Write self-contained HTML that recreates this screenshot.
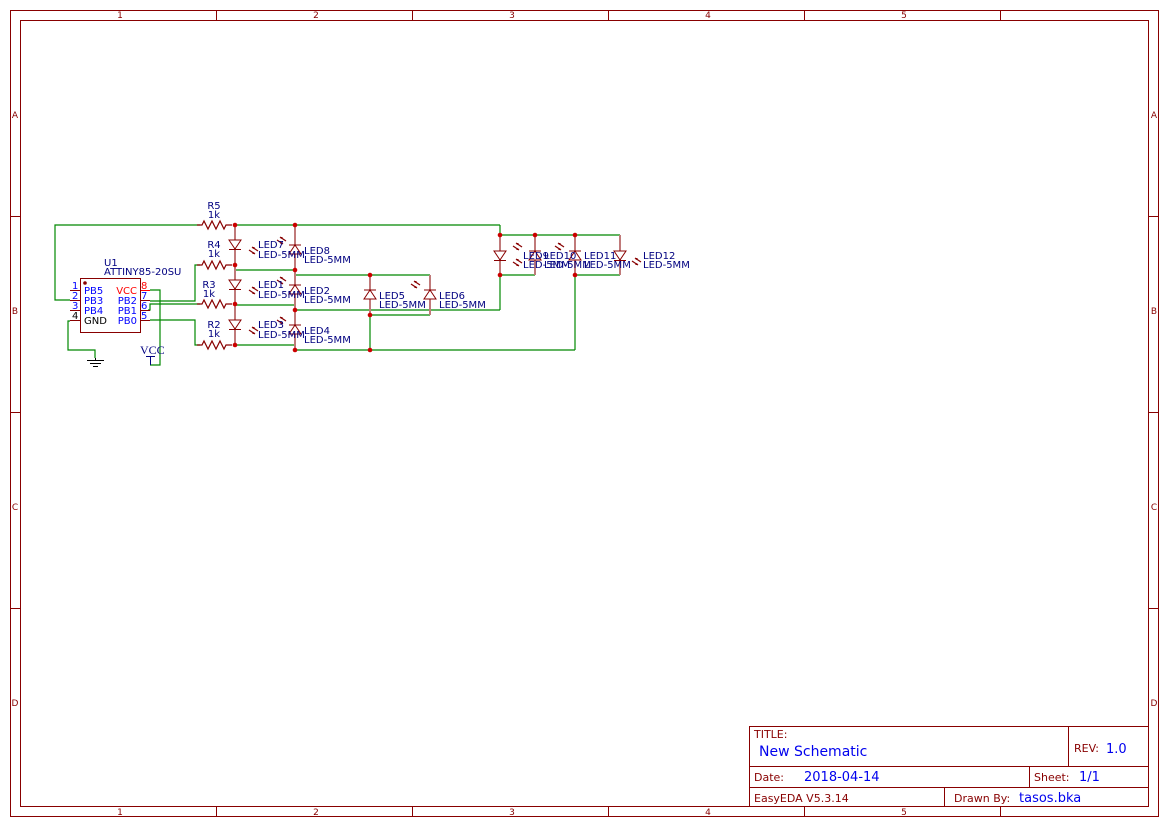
<!DOCTYPE html>
<html><head><meta charset="utf-8"><style>
html,body{margin:0;padding:0;background:#fff;}
svg{display:block;font-family:"DejaVu Sans","Liberation Sans",sans-serif;}
</style></head><body>
<svg width="1169" height="827" viewBox="0 0 1169 827" xmlns="http://www.w3.org/2000/svg">
<defs>
<g id="arr"><line x1="0" y1="0" x2="6" y2="4" stroke="#880000" stroke-width="1.2"/><polygon points="6,4 3,4 5,2" fill="#880000"/><line x1="3" y1="-3" x2="9" y2="1" stroke="#880000" stroke-width="1.2"/><polygon points="3,-3 6,-3 4,-1" fill="#880000"/></g>
<g id="res"><polyline points="0,0 5,0 7,-4 11,4 15,-4 19,4 23,-4 27,4 29,0 35,0" fill="none" stroke="#880000" stroke-width="1.2"/></g>
</defs>
<rect x="10.5" y="10.5" width="1148" height="806" fill="none" stroke="#880000" stroke-width="1"/>
<rect x="20.5" y="20.5" width="1128" height="786" fill="none" stroke="#880000" stroke-width="1"/>
<g stroke="#880000" stroke-width="1">
<line x1="216.5" y1="10" x2="216.5" y2="20"/><line x1="412.5" y1="10" x2="412.5" y2="20"/><line x1="608.5" y1="10" x2="608.5" y2="20"/><line x1="804.5" y1="10" x2="804.5" y2="20"/><line x1="1000.5" y1="10" x2="1000.5" y2="20"/>
<line x1="216.5" y1="807" x2="216.5" y2="817"/><line x1="412.5" y1="807" x2="412.5" y2="817"/><line x1="608.5" y1="807" x2="608.5" y2="817"/><line x1="804.5" y1="807" x2="804.5" y2="817"/><line x1="1000.5" y1="807" x2="1000.5" y2="817"/>
<line x1="10" y1="216.5" x2="20" y2="216.5"/><line x1="10" y1="412.5" x2="20" y2="412.5"/><line x1="10" y1="608.5" x2="20" y2="608.5"/>
<line x1="1149" y1="216.5" x2="1159" y2="216.5"/><line x1="1149" y1="412.5" x2="1159" y2="412.5"/><line x1="1149" y1="608.5" x2="1159" y2="608.5"/>
</g>
<g fill="#880000" font-size="9" text-anchor="middle">
<text x="120" y="18">1</text><text x="316" y="18">2</text><text x="512" y="18">3</text><text x="708" y="18">4</text><text x="904" y="18">5</text>
<text x="120" y="815">1</text><text x="316" y="815">2</text><text x="512" y="815">3</text><text x="708" y="815">4</text><text x="904" y="815">5</text>
<text x="15" y="118">A</text><text x="15" y="314">B</text><text x="15" y="510">C</text><text x="15" y="706">D</text>
<text x="1154" y="118">A</text><text x="1154" y="314">B</text><text x="1154" y="510">C</text><text x="1154" y="706">D</text>
</g>
<g stroke="#880000" stroke-width="1" fill="none">
<rect x="749.5" y="726.5" width="399" height="80"/>
<line x1="749" y1="766.5" x2="1149" y2="766.5"/><line x1="749" y1="787.5" x2="1149" y2="787.5"/>
<line x1="1068.5" y1="726" x2="1068.5" y2="767"/><line x1="1029.5" y1="767" x2="1029.5" y2="787"/><line x1="944.5" y1="787" x2="944.5" y2="807"/>
</g>
<g font-size="11" fill="#880000">
<text x="754" y="738">TITLE:</text><text x="1074" y="752">REV:</text>
<text x="754" y="781">Date:</text><text x="1034" y="781">Sheet:</text>
<text x="754" y="802">EasyEDA V5.3.14</text><text x="954" y="802">Drawn By:</text>
</g>
<g fill="#0000ee">
<text x="759" y="756" font-size="14">New Schematic</text>
<text x="1106" y="753" font-size="13">1.0</text>
<text x="804" y="781" font-size="13">2018-04-14</text>
<text x="1079" y="781" font-size="13">1/1</text>
<text x="1019" y="802" font-size="13">tasos.bka</text>
</g>
<g stroke="#008800" stroke-width="1.2" fill="none">
<polyline points="200,225 55,225 55,300 70,300"/>
<line x1="235" y1="225" x2="500" y2="225"/>
<polyline points="150,301 195,301 195,265 200,265"/>
<polyline points="148,310 150,310 150,304 200,304"/>
<polyline points="150,320 195,320 195,345 200,345"/>
<polyline points="150,290 160,290 160,365 150,365"/>
<polyline points="70,321 68,321 68,350 95,350 95,358"/>
<line x1="235" y1="270" x2="295" y2="270"/>
<line x1="295" y1="275" x2="430" y2="275"/>
<line x1="235" y1="305" x2="295" y2="305"/>
<line x1="295" y1="310" x2="500" y2="310"/>
<line x1="235" y1="345" x2="295" y2="345"/>
<line x1="295" y1="350" x2="575" y2="350"/>
<line x1="370" y1="315" x2="430" y2="315"/>
<line x1="370" y1="315" x2="370" y2="350"/>
<line x1="500" y1="225" x2="500" y2="235"/>
<line x1="500" y1="275" x2="500" y2="310"/>
<line x1="500" y1="235" x2="620" y2="235"/>
<line x1="500" y1="275" x2="535" y2="275"/>
<line x1="575" y1="275" x2="620" y2="275"/>
<line x1="575" y1="275" x2="575" y2="350"/>
</g>
<g stroke="#c07a7a" stroke-width="2">
<line x1="235" y1="225" x2="235" y2="345"/>
<line x1="295" y1="225" x2="295" y2="350"/>
<line x1="370" y1="275" x2="370" y2="315"/>
<line x1="430" y1="275" x2="430" y2="315"/>
<line x1="500" y1="235" x2="500" y2="275"/>
<line x1="535" y1="235" x2="535" y2="275"/>
<line x1="575" y1="235" x2="575" y2="275"/>
<line x1="620" y1="235" x2="620" y2="275"/>
</g>
<use href="#res" x="197" y="225"/><use href="#res" x="197" y="265"/><use href="#res" x="197" y="304"/><use href="#res" x="197" y="345"/>
<g font-size="10" fill="#000080" text-anchor="middle">
<text x="214" y="209">R5</text><text x="214" y="218">1k</text>
<text x="214" y="248">R4</text><text x="214" y="257">1k</text>
<text x="209" y="288">R3</text><text x="209" y="297">1k</text>
<text x="214" y="328">R2</text><text x="214" y="337">1k</text>
</g>
<g>
<g transform="translate(235,240)"><polygon points="-6,0 6,0 0,9" fill="#fff" stroke="#880000"/><line x1="-6" y1="9.5" x2="6" y2="9.5" stroke="#880000"/></g>
<g transform="translate(235,280)"><polygon points="-6,0 6,0 0,9" fill="#fff" stroke="#880000"/><line x1="-6" y1="9.5" x2="6" y2="9.5" stroke="#880000"/></g>
<g transform="translate(235,320)"><polygon points="-6,0 6,0 0,9" fill="#fff" stroke="#880000"/><line x1="-6" y1="9.5" x2="6" y2="9.5" stroke="#880000"/></g>
<g transform="translate(295,245)"><polygon points="-6,9 6,9 0,0" fill="#fff" stroke="#880000"/><line x1="-6" y1="0" x2="6" y2="0" stroke="#880000"/></g>
<g transform="translate(295,285)"><polygon points="-6,9 6,9 0,0" fill="#fff" stroke="#880000"/><line x1="-6" y1="0" x2="6" y2="0" stroke="#880000"/></g>
<g transform="translate(295,325)"><polygon points="-6,9 6,9 0,0" fill="#fff" stroke="#880000"/><line x1="-6" y1="0" x2="6" y2="0" stroke="#880000"/></g>
<g transform="translate(370,290)"><polygon points="-6,9 6,9 0,0" fill="#fff" stroke="#880000"/><line x1="-6" y1="0" x2="6" y2="0" stroke="#880000"/></g>
<g transform="translate(430,290)"><polygon points="-6,9 6,9 0,0" fill="#fff" stroke="#880000"/><line x1="-6" y1="0" x2="6" y2="0" stroke="#880000"/></g>
<g transform="translate(500,251)"><polygon points="-6,0 6,0 0,9" fill="#fff" stroke="#880000"/><line x1="-6" y1="9.5" x2="6" y2="9.5" stroke="#880000"/></g>
<g transform="translate(535,251)"><polygon points="-6,9 6,9 0,0" fill="#fff" stroke="#880000"/><line x1="-6" y1="0" x2="6" y2="0" stroke="#880000"/></g>
<g transform="translate(575,251)"><polygon points="-6,9 6,9 0,0" fill="#fff" stroke="#880000"/><line x1="-6" y1="0" x2="6" y2="0" stroke="#880000"/></g>
<g transform="translate(620,251)"><polygon points="-6,0 6,0 0,9" fill="#fff" stroke="#880000"/><line x1="-6" y1="9.5" x2="6" y2="9.5" stroke="#880000"/></g>
</g>
<use href="#arr" x="249" y="250"/><use href="#arr" x="249" y="290"/><use href="#arr" x="249" y="330"/>
<use href="#arr" x="277" y="240"/><use href="#arr" x="277" y="280"/><use href="#arr" x="277" y="320"/>
<use href="#arr" x="411" y="284"/>
<use href="#arr" x="513" y="246"/><use href="#arr" x="513" y="262"/><use href="#arr" x="555" y="246"/><use href="#arr" x="632" y="261"/>
<g font-size="10" fill="#000080">
<text x="258" y="248">LED7</text><text x="258" y="258">LED-5MM</text>
<text x="258" y="288">LED1</text><text x="258" y="298">LED-5MM</text>
<text x="258" y="328">LED3</text><text x="258" y="338">LED-5MM</text>
<text x="304" y="254">LED8</text><text x="304" y="263">LED-5MM</text>
<text x="304" y="294">LED2</text><text x="304" y="303">LED-5MM</text>
<text x="304" y="334">LED4</text><text x="304" y="343">LED-5MM</text>
<text x="379" y="299">LED5</text><text x="379" y="308">LED-5MM</text>
<text x="439" y="299">LED6</text><text x="439" y="308">LED-5MM</text>
<text x="523" y="259">LED9</text><text x="523" y="268">LED-5MM</text>
<text x="544" y="259">LED10</text><text x="544" y="268">LED-5MM</text>
<text x="584" y="259">LED11</text><text x="584" y="268">LED-5MM</text>
<text x="643" y="259">LED12</text><text x="643" y="268">LED-5MM</text>
</g>
<rect x="80.5" y="278.5" width="60" height="54" fill="#fff" stroke="#880000" stroke-width="1"/>
<circle cx="85" cy="283" r="1.8" fill="#880000"/>
<g stroke="#880000" stroke-width="1">
<line x1="70" y1="290.5" x2="80" y2="290.5"/><line x1="70" y1="300.5" x2="80" y2="300.5"/><line x1="70" y1="310.5" x2="80" y2="310.5"/><line x1="70" y1="320.5" x2="80" y2="320.5"/>
<line x1="141" y1="290.5" x2="150" y2="290.5" stroke="#ff0000"/><line x1="141" y1="300.5" x2="150" y2="300.5"/><line x1="141" y1="310.5" x2="150" y2="310.5"/><line x1="141" y1="320.5" x2="150" y2="320.5"/>
</g>
<g font-size="10">
<text x="104" y="266" fill="#000080">U1</text><text x="104" y="275" fill="#000080">ATTINY85-20SU</text>
<text x="72" y="289" fill="#0000ff">1</text><text x="72" y="299" fill="#0000ff">2</text><text x="72" y="309" fill="#0000ff">3</text><text x="72" y="319" fill="#000">4</text>
<text x="84" y="294" fill="#0000ff">PB5</text><text x="84" y="304" fill="#0000ff">PB3</text><text x="84" y="314" fill="#0000ff">PB4</text><text x="84" y="324" fill="#000">GND</text>
<text x="137" y="294" fill="#ff0000" text-anchor="end">VCC</text><text x="137" y="304" fill="#0000ff" text-anchor="end">PB2</text><text x="137" y="314" fill="#0000ff" text-anchor="end">PB1</text><text x="137" y="324" fill="#0000ff" text-anchor="end">PB0</text>
<text x="141" y="289" fill="#ff0000">8</text><text x="141" y="299" fill="#0000ff">7</text><text x="141" y="309" fill="#0000ff">6</text><text x="141" y="319" fill="#0000ff">5</text>
</g>
<text x="140" y="354" font-size="12" font-family="Liberation Serif,serif" fill="#000080">VCC</text>
<g stroke="#000080" stroke-width="1"><line x1="146" y1="356.5" x2="155" y2="356.5"/><line x1="150.5" y1="356" x2="150.5" y2="365"/></g>
<g stroke="#000" stroke-width="1"><line x1="95.5" y1="358" x2="95.5" y2="360"/><line x1="87" y1="360.5" x2="104" y2="360.5"/><line x1="90" y1="363.5" x2="101" y2="363.5"/><line x1="93" y1="366.5" x2="98" y2="366.5"/></g>
<g fill="#cc0000">
<circle cx="235" cy="225" r="2.3"/><circle cx="295" cy="225" r="2.3"/>
<circle cx="235" cy="265" r="2.3"/><circle cx="295" cy="270" r="2.3"/>
<circle cx="235" cy="304" r="2.3"/><circle cx="295" cy="310" r="2.3"/>
<circle cx="235" cy="345" r="2.3"/><circle cx="295" cy="350" r="2.3"/>
<circle cx="370" cy="275" r="2.3"/><circle cx="370" cy="315" r="2.3"/><circle cx="370" cy="350" r="2.3"/>
<circle cx="500" cy="235" r="2.3"/><circle cx="535" cy="235" r="2.3"/><circle cx="575" cy="235" r="2.3"/>
<circle cx="500" cy="275" r="2.3"/><circle cx="575" cy="275" r="2.3"/>
</g>
</svg>
</body></html>
